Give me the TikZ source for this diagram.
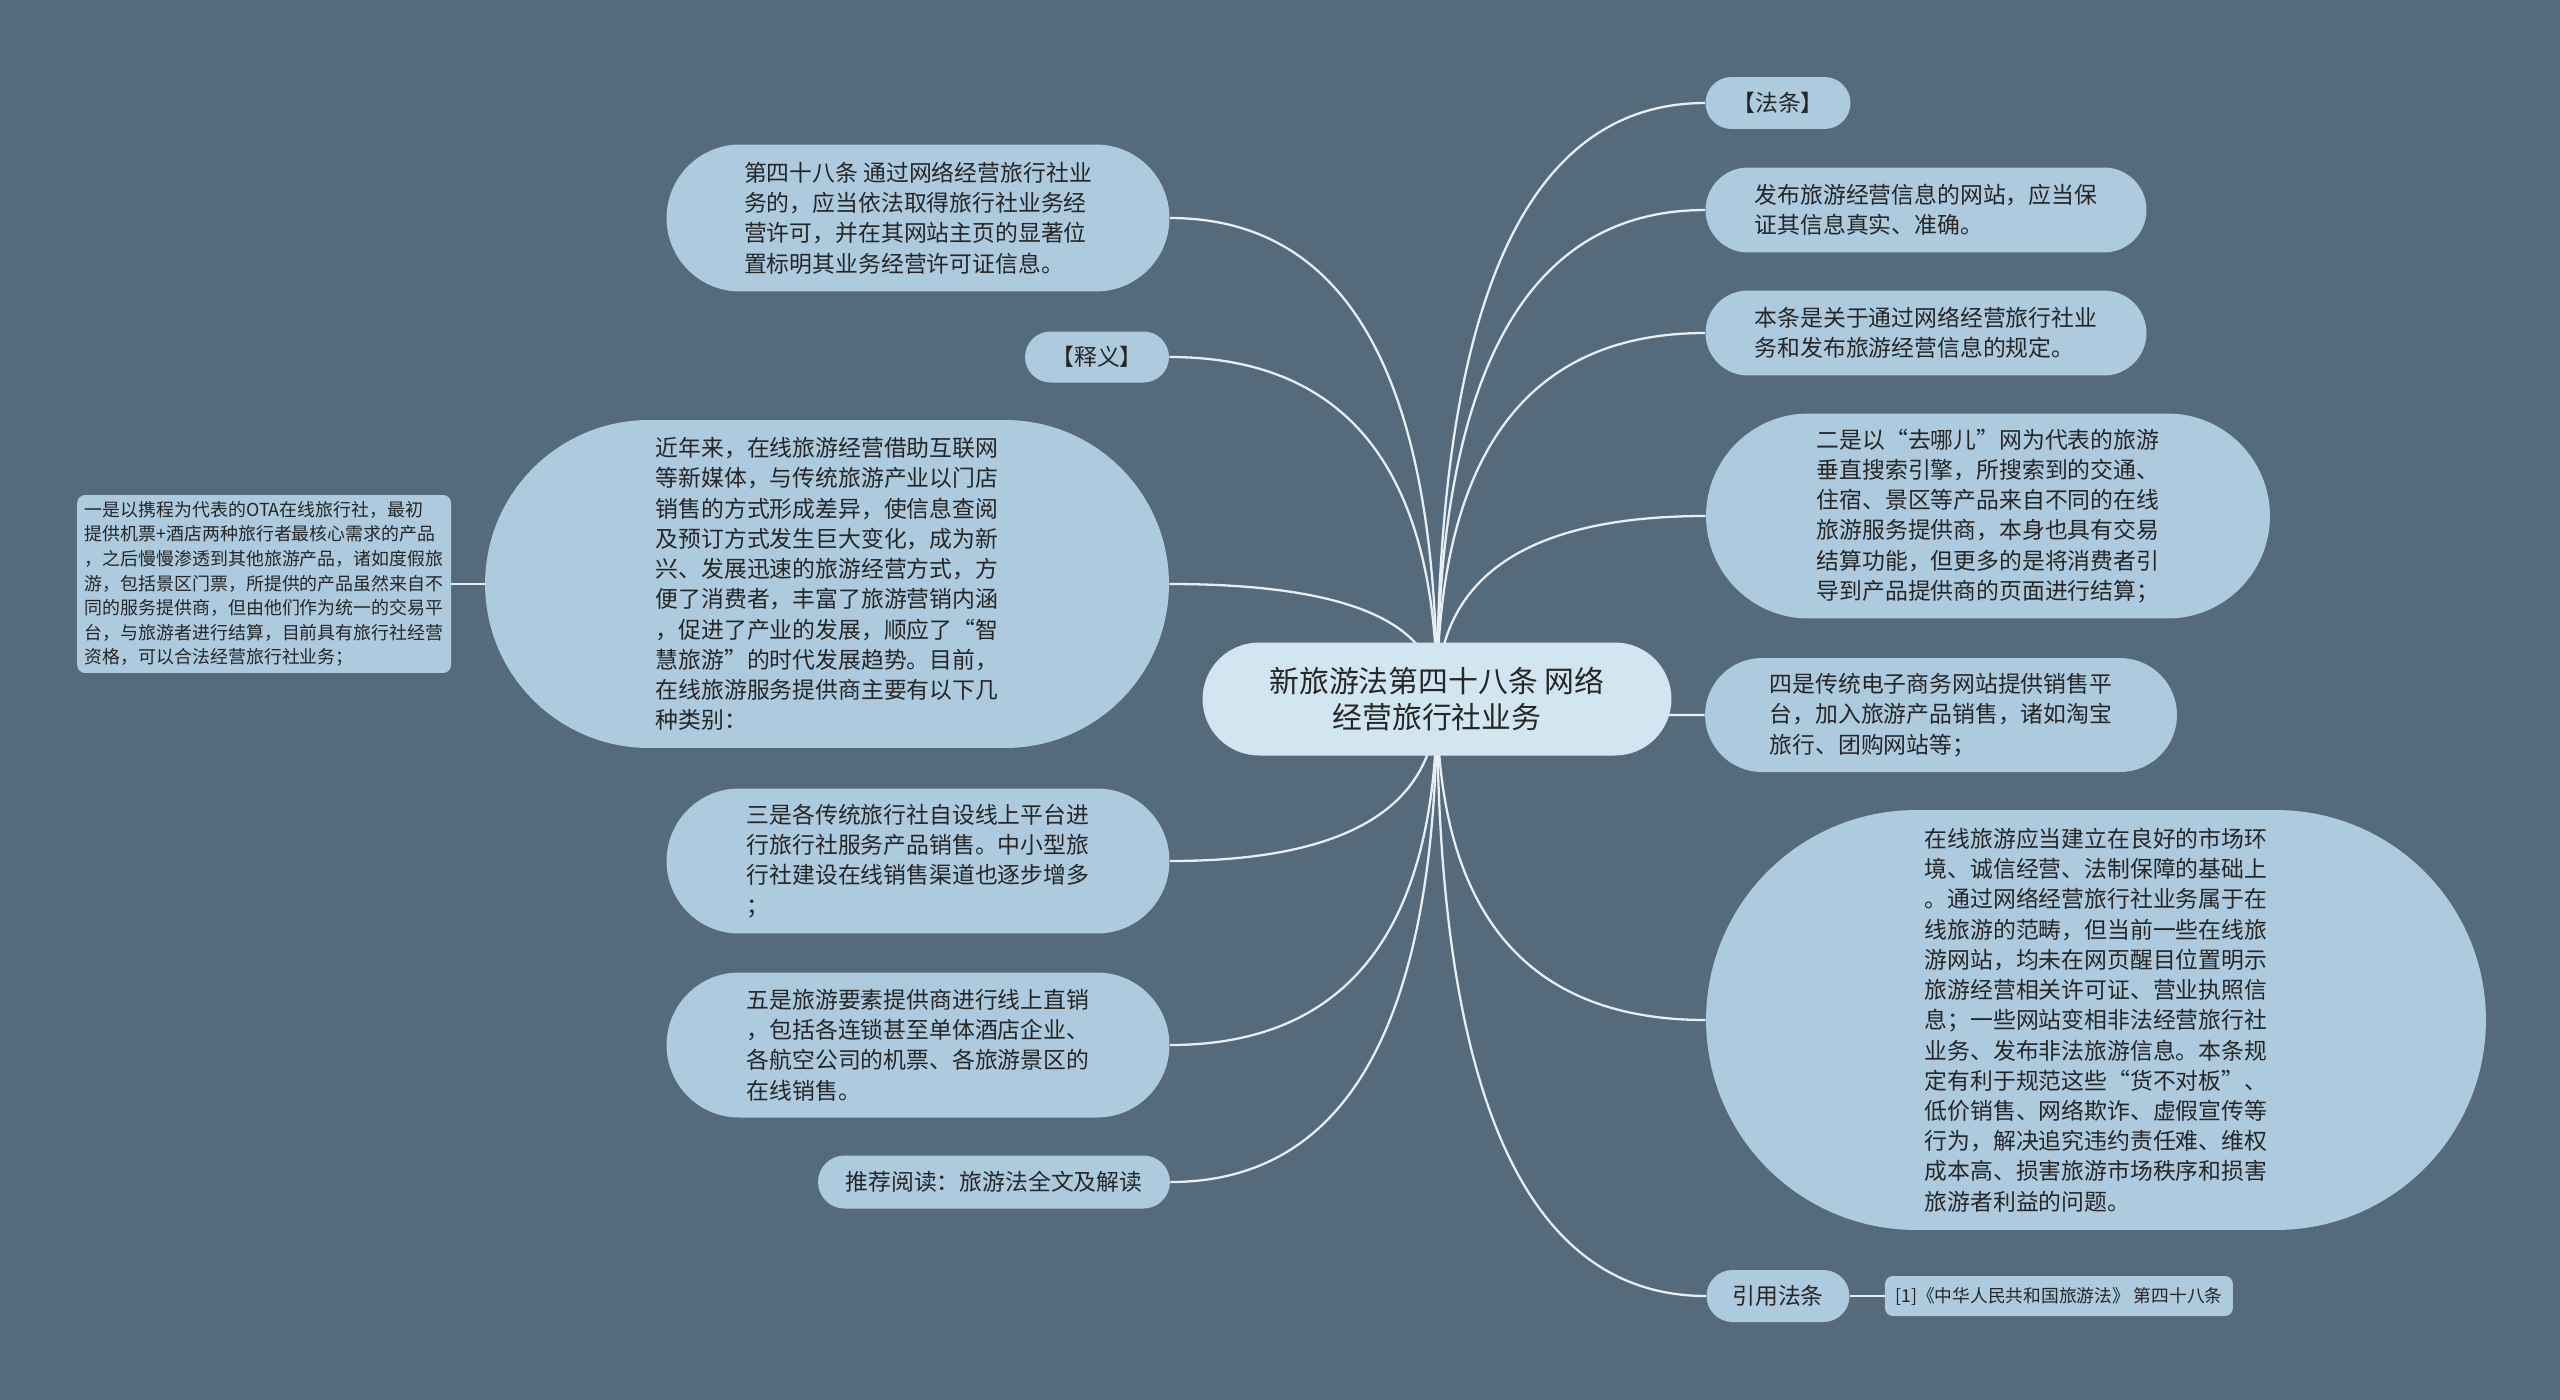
\documentclass[tikz,border=0pt]{standalone}
\usepackage{fontspec}
\setmainfont{Noto Sans CJK SC}
\usetikzlibrary{shapes.misc,calc}
\definecolor{slate}{HTML}{556B7B}
\definecolor{leaf}{HTML}{ADCADF}
\definecolor{hub}{HTML}{D2E6F1}
\definecolor{ink}{HTML}{262626}
\definecolor{wire}{HTML}{E8EFF4}
\pgfdeclarelayer{bg}
\pgfdeclarelayer{links}
\pgfsetlayers{bg,links,main}
\begin{document}
\begin{tikzpicture}[x=0.02cm,y=-0.02cm,
    every node/.style={inner sep=0pt,text=ink,font=\fontsize{13pt}{17.2pt}\selectfont,align=left},
    topic/.style={rounded rectangle,fill=leaf},
    note/.style={rectangle,rounded corners=0.16cm,fill=leaf},
    link/.style={draw=wire,line width=1.3pt}
    ]
    \begin{pgfonlayer}{bg}
      \fill[slate] (0,0) rectangle (2560,1400);
    \end{pgfonlayer}
    \useasboundingbox (0,0) rectangle (2560,1400);

    \node[topic,fill=hub,minimum width=9.38cm,minimum height=2.26cm,align=center,font=\fontsize{17pt}{21pt}\selectfont] (root) at (1437,699) {新旅游法第四十八条 网络\\经营旅行社业务};

    \node[topic,minimum width=10.06cm,minimum height=2.94cm] (art48) at (918,218) {第四十八条 通过网络经营旅行社业\\务的，应当依法取得旅行社业务经\\营许可，并在其网站主页的显著位\\置标明其业务经营许可证信息。};
    \node[topic,minimum width=2.88cm,minimum height=1.02cm] (shiyi) at (1097,357) {【释义】};
    \node[topic,minimum width=13.68cm,minimum height=6.56cm] (intro) at (827,584) {近年来，在线旅游经营借助互联网\\等新媒体，与传统旅游产业以门店\\销售的方式形成差异，使信息查阅\\及预订方式发生巨大变化，成为新\\兴、发展迅速的旅游经营方式，方\\便了消费者，丰富了旅游营销内涵\\，促进了产业的发展，顺应了“智\\慧旅游”的时代发展趋势。目前，\\在线旅游服务提供商主要有以下几\\种类别：};
    \node[note,minimum width=7.48cm,minimum height=3.56cm,font=\fontsize{10.2pt}{14pt}\selectfont,left of=intro,xshift=-10.26cm] (ota) {一是以携程为代表的OTA在线旅行社，最初\\提供机票+酒店两种旅行者最核心需求的产品\\，之后慢慢渗透到其他旅游产品，诸如度假旅\\游，包括景区门票，所提供的产品虽然来自不\\同的服务提供商，但由他们作为统一的交易平\\台，与旅游者进行结算，目前具有旅行社经营\\资格，可以合法经营旅行社业务；};
    \node[topic,minimum width=10.06cm,minimum height=2.9cm] (san) at (918,861) {三是各传统旅行社自设线上平台进\\行旅行社服务产品销售。中小型旅\\行社建设在线销售渠道也逐步增多\\；};
    \node[topic,minimum width=10.06cm,minimum height=2.9cm] (wu) at (918,1045) {五是旅游要素提供商进行线上直销\\，包括各连锁甚至单体酒店企业、\\各航空公司的机票、各旅游景区的\\在线销售。};
    \node[topic,minimum width=7.04cm,minimum height=1.06cm] (read) at (994,1182) {推荐阅读：旅游法全文及解读};

    \node[topic,minimum width=2.9cm,minimum height=1.04cm] (fatiao) at (1778,103) {【法条】};
    \node[topic,minimum width=8.82cm,minimum height=1.7cm] (fabu) at (1926,210) {发布旅游经营信息的网站，应当保\\证其信息真实、准确。};
    \node[topic,minimum width=8.82cm,minimum height=1.7cm] (bentiao) at (1926,333) {本条是关于通过网络经营旅行社业\\务和发布旅游经营信息的规定。};
    \node[topic,minimum width=11.28cm,minimum height=4.1cm] (er) at (1988,516) {二是以“去哪儿”网为代表的旅游\\垂直搜索引擎，所搜索到的交通、\\住宿、景区等产品来自不同的在线\\旅游服务提供商，本身也具有交易\\结算功能，但更多的是将消费者引\\导到产品提供商的页面进行结算；};
    \node[topic,minimum width=9.44cm,minimum height=2.28cm] (si) at (1941,715) {四是传统电子商务网站提供销售平\\台，加入旅游产品销售，诸如淘宝\\旅行、团购网站等；};
    \node[topic,minimum width=15.6cm,minimum height=8.4cm] (zaixian) at (2096,1020) {在线旅游应当建立在良好的市场环\\境、诚信经营、法制保障的基础上\\。通过网络经营旅行社业务属于在\\线旅游的范畴，但当前一些在线旅\\游网站，均未在网页醒目位置明示\\旅游经营相关许可证、营业执照信\\息；一些网站变相非法经营旅行社\\业务、发布非法旅游信息。本条规\\定有利于规范这些“货不对板”、\\低价销售、网络欺诈、虚假宣传等\\行为，解决追究违约责任难、维权\\成本高、损害旅游市场秩序和损害\\旅游者利益的问题。};
    \node[topic,minimum width=2.86cm,minimum height=1.04cm] (yinyong) at (1778,1296) {引用法条};
    \node[note,minimum width=6.96cm,minimum height=0.8cm,font=\fontsize{10.1pt}{12pt}\selectfont,right of=yinyong,xshift=4.62cm] (ref) {[1]《中华人民共和国旅游法》 第四十八条};

    \begin{pgfonlayer}{links}
      \draw[link] (root.center) .. controls ($(root.center)!.667!(root.center |- art48.east)$) and ($(art48.east)!.667!(root.center |- art48.east)$) .. (art48.east);
      \draw[link] (root.center) .. controls ($(root.center)!.667!(root.center |- shiyi.east)$) and ($(shiyi.east)!.667!(root.center |- shiyi.east)$) .. (shiyi.east);
      \draw[link] (root.center) .. controls ($(root.center)!.667!(root.center |- intro.east)$) and ($(intro.east)!.667!(root.center |- intro.east)$) .. (intro.east);
      \draw[link] (root.center) .. controls ($(root.center)!.667!(root.center |- san.east)$) and ($(san.east)!.667!(root.center |- san.east)$) .. (san.east);
      \draw[link] (root.center) .. controls ($(root.center)!.667!(root.center |- wu.east)$) and ($(wu.east)!.667!(root.center |- wu.east)$) .. (wu.east);
      \draw[link] (root.center) .. controls ($(root.center)!.667!(root.center |- read.east)$) and ($(read.east)!.667!(root.center |- read.east)$) .. (read.east);
      \draw[link] (root.center) .. controls ($(root.center)!.667!(root.center |- fatiao.west)$) and ($(fatiao.west)!.667!(root.center |- fatiao.west)$) .. (fatiao.west);
      \draw[link] (root.center) .. controls ($(root.center)!.667!(root.center |- fabu.west)$) and ($(fabu.west)!.667!(root.center |- fabu.west)$) .. (fabu.west);
      \draw[link] (root.center) .. controls ($(root.center)!.667!(root.center |- bentiao.west)$) and ($(bentiao.west)!.667!(root.center |- bentiao.west)$) .. (bentiao.west);
      \draw[link] (root.center) .. controls ($(root.center)!.667!(root.center |- er.west)$) and ($(er.west)!.667!(root.center |- er.west)$) .. (er.west);
      \draw[link] (root.center) .. controls ($(root.center)!.667!(root.center |- si.west)$) and ($(si.west)!.667!(root.center |- si.west)$) .. (si.west);
      \draw[link] (root.center) .. controls ($(root.center)!.667!(root.center |- zaixian.west)$) and ($(zaixian.west)!.667!(root.center |- zaixian.west)$) .. (zaixian.west);
      \draw[link] (root.center) .. controls ($(root.center)!.667!(root.center |- yinyong.west)$) and ($(yinyong.west)!.667!(root.center |- yinyong.west)$) .. (yinyong.west);
      \draw[link] (intro.west) -- (ota.east);
      \draw[link] (yinyong.east) -- (ref.west);
    \end{pgfonlayer}
\end{tikzpicture}
\end{document}
